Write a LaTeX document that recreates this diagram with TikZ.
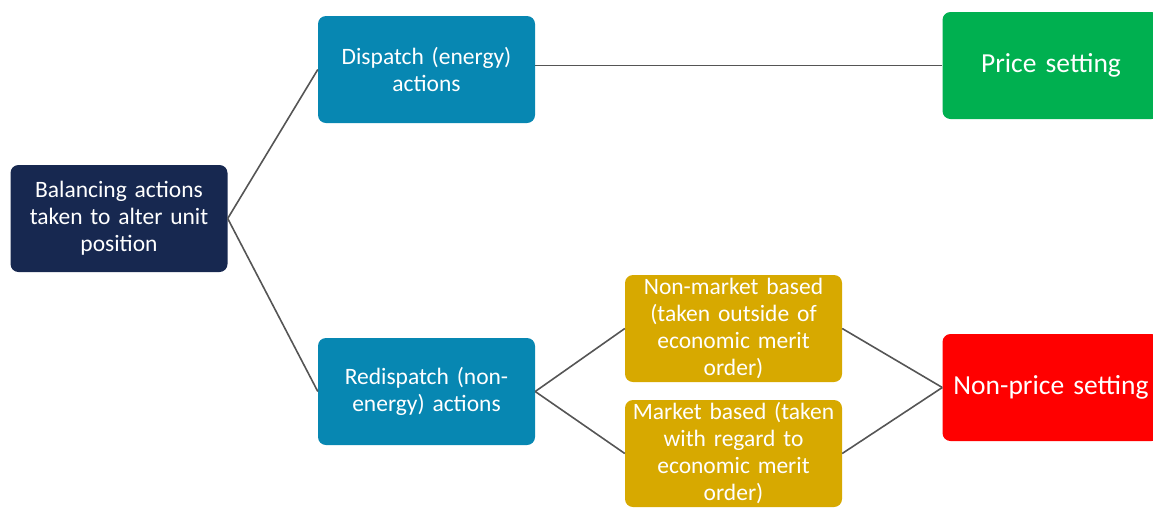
\documentclass[tikz,border=0pt]{standalone}
\usepackage{fontspec}
\setmainfont{Carlito}
\definecolor{navy}{HTML}{172850}
\definecolor{teal}{HTML}{0787B2}
\definecolor{pgreen}{HTML}{00B050}
\definecolor{pred}{HTML}{FF0000}
\definecolor{gold}{HTML}{D7A900}
\definecolor{wire}{HTML}{555555}
\begin{document}
\begin{tikzpicture}[x=1pt,y=-1pt,
  box/.style={rounded corners=8pt, minimum width=217pt, minimum height=107pt,
    text width=215pt, align=center, text=white, inner sep=0pt,
    font=\fontsize{23.5}{27}\selectfont},
  bigbox/.style={box, font=\fontsize{27.5}{31}\selectfont},
  link/.style={draw=wire, line width=1.6pt}]
\useasboundingbox (0,0) rectangle (1153,507);
\begin{scope}
\clip (0,0) rectangle (1153,507);
\node[box, fill=navy] (bal) at (119,218.5) {Balancing actions\\taken to alter unit\\position};
\node[box, fill=teal] (disp) at (426.5,69.5) {Dispatch (energy)\\actions};
\node[box, fill=teal] (redisp) at (426.5,391.5) {Redispatch (non-\\energy) actions};
\node[bigbox, fill=pgreen] (price) at (1051,65.5) {Price setting};
\node[box, fill=gold] (nonmkt) at (733.5,328.5) {Non-market based\\(taken outside of\\economic merit\\order)};
\node[box, fill=gold] (mkt) at (733.5,453.5) {Market based (taken\\with regard to\\economic merit\\order)};
\node[bigbox, fill=pred] (nonprice) at (1051,387.5) {Non-price setting};

\draw[link] (bal.east) -- (disp.west);
\draw[link] (bal.east) -- (redisp.west);
\draw[link] (disp.east |- price.west) -- (price.west);
\draw[link] (redisp.east) -- (nonmkt.west);
\draw[link] (redisp.east) -- (mkt.west);
\draw[link] (nonmkt.east) -- (nonprice.west);
\draw[link] (mkt.east) -- (nonprice.west);
\end{scope}
\end{tikzpicture}
\end{document}
